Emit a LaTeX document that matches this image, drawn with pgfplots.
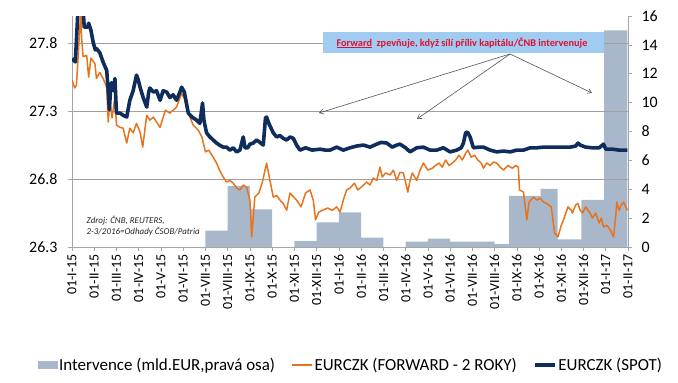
\documentclass[border=0pt]{standalone}
\usepackage{pgfplots}
\pgfplotsset{compat=1.18}
\usepackage{fontspec}
\setmainfont{Carlito}
\usetikzlibrary{arrows.meta}
\definecolor{navycol}{HTML}{0F2D5C}
\definecolor{orangecol}{HTML}{E8731E}
\definecolor{barcol}{HTML}{A8B8CA}
\definecolor{boxcol}{HTML}{A0CCF2}
\definecolor{redcol}{HTML}{E0102F}
\definecolor{gridcol}{HTML}{A0A0A0}
\definecolor{axiscol}{HTML}{A6A6A6}
\definecolor{arrowcol}{HTML}{4A5566}
\begin{document}
\begin{tikzpicture}
\useasboundingbox (-72bp,-136bp) rectangle (606bp,247bp);
\begin{axis}[
  at={(0,0)}, anchor=south west,
  scale only axis, width=556bp, height=231bp,
  xmin=0, xmax=25, ymin=0, ymax=16,
  hide x axis,
  axis y line*=right,
  ytick={0,2,...,16},
  tick align=outside, major tick length=4bp,
  tick style={color=axiscol, line width=0.6bp},
  axis line style={color=axiscol, line width=0.8bp},
  /pgf/number format/assume math mode=true,
  yticklabel style={font=\fontsize{16}{16}\selectfont, xshift=6bp},
]
\addplot[const plot, fill=barcol, draw=none] coordinates {
(0,0) (6,1.13) (7,4.24) (8,2.6) (9,0) (10,0.4) (11,1.7) (12,2.4) (13,0.65) (14,0)
(15,0.37) (16,0.58) (17,0.37) (19,0.2) (19.66,3.54) (21.07,4.03) (21.84,0.53)
(22.9,3.26) (23.93,15.0) (24.97,0) (25,0)
} \closedcycle;
\end{axis}
\begin{axis}[
  at={(0,0)}, anchor=south west,
  scale only axis, width=556bp, height=231bp,
  xmin=0, xmax=25, ymin=26.3, ymax=28.0,
  axis y line*=left, axis x line*=bottom,
  ytick={26.3,26.8,27.3,27.8},
  ymajorgrids, grid style={color=gridcol, line width=0.7bp},
  xtick={0,...,25},
  xticklabels={01-I-15,01-II-15,01-III-15,01-IV-15,01-V-15,01-VI-15,01-VII-15,01-VIII-15,01-IX-15,01-X-15,01-XI-15,01-XII-15,01-I-16,01-II-16,01-III-16,01-IV-16,01-V-16,01-VI-16,01-VII-16,01-VIII-16,01-IX-16,01-X-16,01-XI-16,01-XII-16,01-I-17,01-II-17},
  xticklabel style={font=\fontsize{14}{14}\selectfont, rotate=90, anchor=east},
  tick align=outside, major tick length=4bp,
  tick style={color=axiscol, line width=0.6bp},
  axis line style={color=axiscol, line width=0.8bp},
  /pgf/number format/assume math mode=true,
  yticklabel style={font=\fontsize{16}{16}\selectfont, xshift=-7bp,
    /pgf/number format/fixed, /pgf/number format/precision=1, /pgf/number format/fixed zerofill},
  legend columns=3,
  legend style={at={(axis description cs:-0.061,-0.511)}, anchor=west, draw=none, fill=none,
    font=\fontsize{17}{19}\selectfont, inner xsep=0pt, inner ysep=0pt,
    column sep=0pt,
    nodes={inner sep=1.5bp}},
  legend cell align=left,
  legend image code/.code={\draw[#1] (0bp,0bp) -- (20bp,0bp);},
]
\addlegendimage{legend image code/.code={\fill[barcol] (0bp,-3.5bp) rectangle (19bp,3.5bp);}}
\addlegendentry{Intervence (mld.EUR,pravá osa)\rule{15bp}{0pt}}
\addplot[orangecol, line width=1.5bp, line join=round] coordinates {
(0.00,27.528) (0.12,27.47) (0.2,27.49) (0.4,28.05) (0.43,27.846) (0.5,27.70) (0.66,27.71)
(0.75,27.55) (0.85,27.69) (1.03,27.65) (1.1,27.54) (1.25,27.585) (1.4,27.54) (1.56,27.476)
(1.63,27.22) (1.7,27.38) (1.8,27.25) (1.93,27.40) (2.0,27.197) (2.16,27.18) (2.3,27.175)
(2.46,27.065) (2.6,27.175) (2.75,27.14) (2.9,27.21) (3.06,27.146) (3.18,27.035) (3.36,27.27)
(3.5,27.234) (3.66,27.256) (3.8,27.22) (3.96,27.18) (4.2,27.307) (4.4,27.285) (4.55,27.307)
(4.7,27.33) (4.93,27.43) (5.05,27.395) (5.23,27.285) (5.45,27.197) (5.68,27.16) (5.84,27.11)
(6.0,27.0) (6.15,27.013) (6.35,26.96) (6.5,26.918) (6.63,26.866) (6.8,26.815) (6.95,26.778)
(7.1,26.79) (7.25,26.77) (7.4,26.734) (7.55,26.72) (7.7,26.756) (7.85,26.74) (8.0,26.645)
(8.08,26.374) (8.15,26.52) (8.22,26.667) (8.4,26.697) (8.55,26.77) (8.75,26.918) (8.9,26.79)
(9.05,26.667) (9.2,26.68) (9.35,26.645) (9.5,26.62) (9.65,26.57) (9.8,26.697) (10.1,26.645)
(10.3,26.595) (10.5,26.697) (10.7,26.72) (10.85,26.645) (10.95,26.5) (11.1,26.557) (11.25,26.57)
(11.5,26.587) (11.7,26.57) (11.9,26.595) (12.05,26.557) (12.2,26.645) (12.35,26.72) (12.5,26.734)
(12.7,26.77) (12.85,26.72) (13.0,26.74) (13.25,26.778) (13.4,26.756) (13.55,26.807) (13.7,26.79)
(13.85,26.888) (13.95,26.815) (14.1,26.845) (14.3,26.83) (14.45,26.866) (14.6,26.79) (14.75,26.85)
(14.9,26.845) (15.1,26.704) (15.2,26.79) (15.3,26.845) (15.5,26.79) (15.65,26.866) (15.8,26.918)
(16.0,26.866) (16.2,26.88) (16.35,26.9) (16.5,26.918) (16.65,26.888) (16.8,26.94) (16.95,26.9)
(17.1,26.918) (17.25,26.94) (17.4,26.976) (17.55,26.94) (17.7,26.99) (17.8,27.013) (17.95,26.96)
(18.1,26.976) (18.25,26.94) (18.4,26.918) (18.5,26.88) (18.65,26.918) (18.8,26.9) (18.95,26.925)
(19.1,26.918) (19.25,26.888) (19.4,26.866) (19.6,26.9) (19.8,26.88) (19.95,26.9) (20.07,26.888)
(20.12,26.72) (20.3,26.704) (20.45,26.5) (20.55,26.63) (20.75,26.667) (20.9,26.645) (21.05,26.66)
(21.2,26.63) (21.35,26.62) (21.55,26.595) (21.7,26.403) (21.85,26.374) (22.0,26.46) (22.1,26.5)
(22.3,26.595) (22.45,26.57) (22.5,26.55) (22.65,26.61) (22.75,26.62) (22.85,26.57) (22.95,26.55)
(23.1,26.595) (23.2,26.57) (23.3,26.55) (23.4,26.513) (23.55,26.55) (23.7,26.476) (23.8,26.513)
(23.9,26.447) (24.05,26.46) (24.2,26.425) (24.35,26.374) (24.45,26.535) (24.5,26.63) (24.6,26.57)
(24.7,26.61) (24.8,26.63) (24.97,26.57)
};
\addlegendentry{EURCZK (FORWARD - 2 ROKY)\rule{15bp}{0pt}}
\addplot[navycol, line width=3.6bp, line join=round] coordinates {
(0.00,27.687) (0.15,27.662) (0.27,28.05) (0.50,28.05) (0.55,27.918) (0.70,27.918) (0.75,27.947)
(0.85,27.896) (0.96,27.80) (1.05,27.75) (1.1,27.76) (1.25,27.73) (1.4,27.66) (1.56,27.60)
(1.62,27.47) (1.68,27.31) (1.73,27.45) (1.78,27.51) (1.86,27.45) (1.93,27.54) (2.0,27.285)
(2.16,27.285) (2.3,27.27) (2.46,27.256) (2.6,27.38) (2.75,27.45) (2.9,27.565) (2.98,27.53)
(3.06,27.476) (3.2,27.40) (3.36,27.33) (3.45,27.44) (3.5,27.47) (3.66,27.44) (3.8,27.45)
(3.96,27.38) (4.1,27.45) (4.26,27.44) (4.4,27.40) (4.55,27.42) (4.7,27.38) (4.85,27.44)
(4.93,27.476) (5.05,27.44) (5.23,27.285) (5.4,27.256) (5.6,27.234) (5.75,27.21) (5.87,27.36)
(5.93,27.234) (6.05,27.14) (6.2,27.11) (6.35,27.087) (6.5,27.065) (6.63,27.05) (6.8,27.035)
(6.95,27.035) (7.1,27.013) (7.25,27.03) (7.4,27.0) (7.55,27.013) (7.7,27.11) (7.78,27.03)
(7.9,27.03) (8.0,27.057) (8.15,27.065) (8.3,27.087) (8.45,27.07) (8.6,27.05) (8.7,27.25)
(8.75,27.256) (8.85,27.21) (9.05,27.14) (9.2,27.11) (9.35,27.12) (9.5,27.10) (9.65,27.087)
(9.8,27.11) (9.95,27.10) (10.1,27.05) (10.25,27.013) (10.5,27.03) (10.8,27.013) (11.15,27.02)
(11.4,27.013) (11.6,27.013) (11.9,27.035) (12.2,27.013) (12.5,27.03) (12.8,27.043) (13.1,27.05)
(13.4,27.035) (13.7,27.057) (13.9,27.07) (14.15,27.065) (14.4,27.035) (14.6,27.05) (14.75,27.057)
(15.0,27.03) (15.2,27.0) (15.5,27.03) (15.8,27.035) (16.1,27.013) (16.4,27.013) (16.7,27.03)
(17.0,27.0) (17.3,27.013) (17.5,27.03) (17.6,27.065) (17.7,27.14) (17.78,27.146) (17.9,27.11)
(18.05,27.03) (18.3,27.035) (18.5,27.035) (18.8,27.013) (19.1,27.0) (19.4,27.006) (19.7,27.0)
(20.0,27.013) (20.3,27.013) (20.6,27.03) (20.9,27.03) (21.2,27.035) (21.5,27.035) (21.8,27.035)
(22.1,27.035) (22.4,27.035) (22.65,27.043) (22.75,27.065) (22.85,27.05) (23.1,27.035) (23.4,27.03)
(23.7,27.03) (23.85,27.05) (23.9,27.057) (24.0,27.02) (24.3,27.02) (24.6,27.013) (24.97,27.013)
};
\addlegendentry{EURCZK (SPOT)}
\fill[boxcol] (rel axis cs:0.4514,0.8398) rectangle (rel axis cs:0.9568,0.9307);
\node[text=redcol, font=\bfseries\fontsize{10.3}{12}\selectfont, inner sep=0pt]
  at (rel axis cs:0.7014,0.883) {\underline{Forward}\ \ zpevňuje, když sílí příliv kapitálu/ČNB intervenuje};
\draw[arrowcol, line width=0.6bp, -{Straight Barb[length=4bp,width=5bp]}]
  (rel axis cs:0.7878,0.8355) -- (rel axis cs:0.4442,0.5801);
\draw[arrowcol, line width=0.6bp, -{Straight Barb[length=4bp,width=5bp]}]
  (rel axis cs:0.7878,0.8355) -- (rel axis cs:0.6205,0.5541);
\draw[arrowcol, line width=0.6bp, -{Straight Barb[length=4bp,width=5bp]}]
  (rel axis cs:0.7878,0.8355) -- (rel axis cs:0.9353,0.6667);
\node[anchor=north west, align=left, inner sep=0pt,
  font=\itshape\fontsize{9}{11.5}\selectfont, text=black!85]
  at (rel axis cs:0.026,0.135) {Zdroj: ČNB, REUTERS,\\2-3/2016=Odhady ČSOB/Patria};
\end{axis}
\end{tikzpicture}
\end{document}
